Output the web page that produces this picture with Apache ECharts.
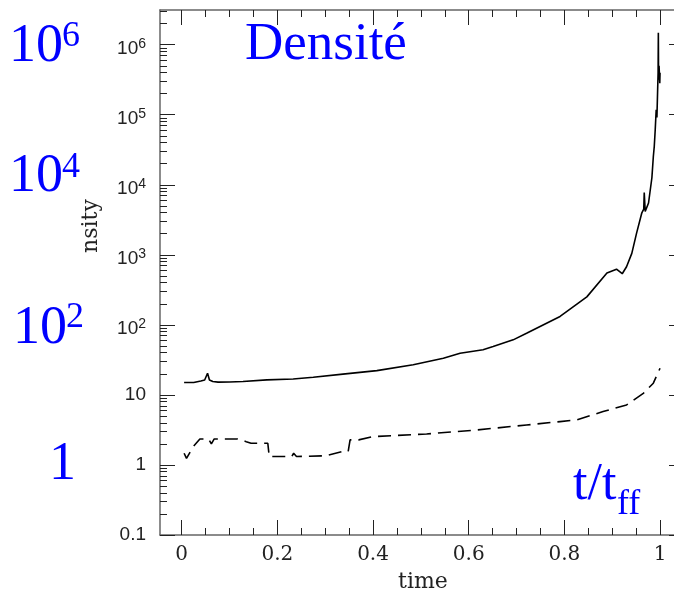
<!DOCTYPE html>
<html><head><meta charset="utf-8">
<script src="https://cdn.jsdelivr.net/npm/echarts@6/dist/echarts.min.js"></script>
<style>html,body{margin:0;padding:0;background:#fff}#c{width:674px;height:592px}</style>
</head><body><div id="c"></div>
<script>
// Solid curve: time (t/tff) and density
const solidTime = [0.005, 0.025, 0.04, 0.048, 0.054, 0.058, 0.065, 0.076, 0.10, 0.128, 0.178, 0.233, 0.275, 0.337, 0.408, 0.484, 0.547, 0.582, 0.63, 0.651, 0.693, 0.721, 0.791, 0.847, 0.889, 0.909, 0.921, 0.93, 0.941, 0.951, 0.962, 0.966, 0.967, 0.969, 0.976, 0.983, 0.986, 0.988, 0.990, 0.992, 0.9935, 0.995, 0.996, 0.9965, 0.997, 0.998, 0.9995, 1.0];
const solidDensity = [15.0, 15.0, 15.8, 16.3, 20.4, 16.3, 15.5, 15.2, 15.3, 15.5, 16.4, 16.9, 17.9, 19.8, 22.2, 26.9, 33.4, 39.4, 44.2, 49.0, 61.1, 75.9, 132, 251, 550, 624, 537, 676, 1047, 2042, 3981, 4500, 7762, 4169, 5495, 12589, 25119, 35481, 61660, 117490, 91200, 223900, 398100, 1479000, 316200, 501200, 281800, 398100];
// Dashed curve: time and density
const dashTime = [0.005, 0.010, 0.024, 0.038, 0.056, 0.062, 0.068, 0.082, 0.117, 0.124, 0.135, 0.145, 0.180, 0.183, 0.23, 0.234, 0.24, 0.30, 0.335, 0.348, 0.352, 0.37, 0.40, 0.512, 0.617, 0.721, 0.791, 0.826, 0.881, 0.93, 0.965, 0.986, 1.0];
const dashDensity = [1.47, 1.24, 1.82, 2.35, 2.35, 2.0, 2.35, 2.35, 2.35, 2.28, 2.15, 2.04, 2.04, 1.32, 1.32, 1.47, 1.32, 1.35, 1.55, 1.55, 2.28, 2.28, 2.54, 2.77, 3.16, 3.72, 4.16, 4.40, 5.78, 7.19, 10.5, 14.7, 24.0];

const xMajorTicks = [0, 0.2, 0.4, 0.6, 0.8, 1];
const xMinorTicks = [0.05, 0.1, 0.15, 0.25, 0.3, 0.35, 0.45, 0.5, 0.55, 0.65, 0.7, 0.75, 0.85, 0.9, 0.95];
const yDecadeExponents = [-1, 0, 1, 2, 3, 4, 5, 6];
const yMinorMultipliers = [2, 3, 4, 5, 6, 7, 8, 9];
const yPlainLabels = { '-1': '0.1', '0': '1', '1': '10' };

const yMinorTicks = [];
yDecadeExponents.forEach(e => yMinorMultipliers.forEach(m => yMinorTicks.push(Math.log10(m) + e)));

const X_MIN = -0.0454, X_MAX = 1.0355, Y_MIN = -1, Y_MAX = 6.495;
const AXIS_LINE = { show: true, onZero: false, lineStyle: { color: '#666', width: 1.5 } };
const NO_LINE = { show: false, onZero: false };

function xAxisCfg(pos, ticks, len, withLine, withLabel) {
  return {
    type: 'value', position: pos, min: X_MIN, max: X_MAX,
    axisLine: withLine ? AXIS_LINE : NO_LINE,
    splitLine: { show: false },
    axisTick: { show: true, inside: true, length: len, customValues: ticks, lineStyle: { color: '#222', width: 1 } },
    axisLabel: withLabel ? {
      show: true, customValues: ticks, margin: 10, color: '#222',
      fontFamily: 'DejaVu Serif', fontSize: 20,
      formatter: v => (v === 0 || v === 1) ? String(v) : v.toFixed(1)
    } : { show: false }
  };
}
function yAxisCfg(pos, ticks, len, withLine, withLabel) {
  return {
    type: 'value', position: pos, min: Y_MIN, max: Y_MAX,
    axisLine: withLine ? AXIS_LINE : NO_LINE,
    splitLine: { show: false },
    axisTick: { show: true, inside: true, length: len, customValues: ticks, lineStyle: { color: '#222', width: 1 } },
    axisLabel: withLabel ? {
      show: true, customValues: ticks, margin: 14, color: '#222',
      fontFamily: 'Liberation Sans', fontSize: 19,
      formatter: v => {
        const e = Math.round(v);
        if (yPlainLabels[String(e)] !== undefined) return yPlainLabels[String(e)];
        return '{b|10}{s|' + e + '}';
      },
      rich: {
        b: { fontFamily: 'Liberation Sans', fontSize: 19, color: '#222', padding: [8, 0, 0, 0] },
        s: { fontFamily: 'Liberation Sans', fontSize: 14, color: '#222', padding: [6, 0, 7, 0] }
      }
    } : { show: false }
  };
}

const xAxes = [
  Object.assign(xAxisCfg('bottom', xMajorTicks, 15, true, true), {
    name: 'time', nameLocation: 'middle', nameGap: 36,
    nameTextStyle: { fontFamily: 'DejaVu Serif', fontSize: 22, color: '#222', padding: [0, 0, 0, 9] }
  }),
  xAxisCfg('bottom', xMinorTicks, 7, false, false),
  xAxisCfg('top', xMajorTicks, 15, true, false),
  xAxisCfg('top', xMinorTicks, 7, false, false)
];
const yAxes = [
  Object.assign(yAxisCfg('left', yDecadeExponents, 15, true, true), {
    name: 'nsity', nameLocation: 'middle', nameGap: 58, nameRotate: 90,
    nameTextStyle: { fontFamily: 'DejaVu Serif', fontSize: 22, color: '#222', padding: [0, 0, 0, 93] }
  }),
  yAxisCfg('left', yMinorTicks, 7, false, false),
  yAxisCfg('right', yDecadeExponents, 8, true, false)
];

const BLUE = '#0000ff';
function blueText(text, x, y, size) {
  return { type: 'text', x: x, y: y, z: 100,
    style: { text: text, fill: BLUE, fontFamily: 'Liberation Serif', fontSize: size, align: 'left', verticalAlign: 'middle' } };
}

const chart = echarts.init(document.getElementById('c'), null, { renderer: 'canvas' });
chart.setOption({
  animation: false,
  backgroundColor: '#fff',
  grid: { left: 160, top: 10, width: 517, height: 525, containLabel: false, outerBoundsMode: 'none' },
  xAxis: xAxes,
  yAxis: yAxes,
  series: [
    { type: 'line', xAxisIndex: 0, yAxisIndex: 0, showSymbol: false, symbol: 'none',
      lineStyle: { color: '#000', width: 1.6 },
      data: solidTime.map((t, i) => [t, Math.log10(solidDensity[i])]) },
    { type: 'line', xAxisIndex: 0, yAxisIndex: 0, showSymbol: false, symbol: 'none',
      lineStyle: { color: '#000', width: 1.6, type: [13, 7] },
      data: dashTime.map((t, i) => [t, Math.log10(dashDensity[i])]) }
  ],
  graphic: [
    blueText('Densité', 245, 45.4, 53),
    blueText('10', 9, 46.8, 54), blueText('6', 62, 36.2, 36),
    blueText('10', 9, 176.8, 54), blueText('4', 62, 167.9, 36),
    blueText('10', 13, 328.5, 54), blueText('2', 66, 317.9, 36),
    blueText('1', 49, 465.1, 54),
    blueText('t/t', 573, 485.8, 52), blueText('ff', 617, 504.5, 36)
  ]
});
</script></body></html>
